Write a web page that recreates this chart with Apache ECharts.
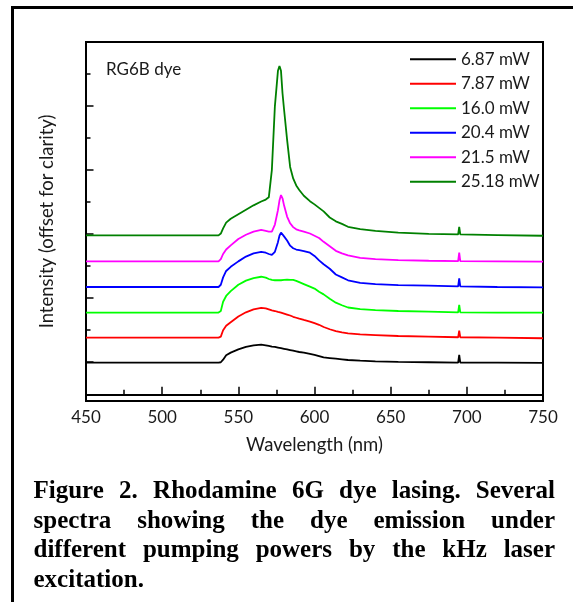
<!DOCTYPE html>
<html>
<head>
<meta charset="utf-8">
<script src="https://cdn.jsdelivr.net/npm/echarts@6/dist/echarts.min.js"></script>
<style>
html,body{margin:0;padding:0;background:#fff;}
#chart{width:573px;height:602px;}
</style>
</head>
<body>
<div id="chart"></div>
<script>
// ---- data ----
const wavelengths = [450, 500, 537, 538.5, 540, 542, 545, 550, 555, 560, 565, 568, 570, 572, 574, 576, 577, 578, 579, 580, 582, 584, 586, 588, 590, 593, 597, 600, 603, 606, 610, 614, 618, 622, 630, 640, 655, 675, 694.3, 695, 695.7, 720, 750];

const p687 = [0.99, 0.99, 0.99, 1.00, 1.08, 1.22, 1.30, 1.40, 1.48, 1.53, 1.55, 1.53, 1.51, 1.49, 1.48, 1.46, 1.45, 1.44, 1.43, 1.42, 1.40, 1.38, 1.36, 1.34, 1.32, 1.30, 1.26, 1.23, 1.19, 1.15, 1.13, 1.11, 1.09, 1.07, 1.05, 1.03, 1.01, 1.00, 0.99, 1.23, 0.99, 0.99, 0.98];
const p787 = [1.77, 1.77, 1.77, 1.80, 2.00, 2.14, 2.25, 2.43, 2.56, 2.65, 2.70, 2.68, 2.65, 2.62, 2.60, 2.57, 2.56, 2.55, 2.54, 2.52, 2.49, 2.46, 2.42, 2.39, 2.36, 2.32, 2.27, 2.22, 2.17, 2.10, 2.03, 1.97, 1.93, 1.90, 1.87, 1.85, 1.82, 1.80, 1.78, 1.99, 1.78, 1.77, 1.75];
const p160 = [2.55, 2.55, 2.55, 2.60, 2.89, 3.07, 3.22, 3.42, 3.55, 3.63, 3.67, 3.64, 3.60, 3.57, 3.56, 3.56, 3.57, 3.56, 3.55, 3.57, 3.58, 3.57, 3.57, 3.54, 3.50, 3.44, 3.36, 3.30, 3.20, 3.12, 2.98, 2.86, 2.78, 2.71, 2.66, 2.63, 2.60, 2.58, 2.56, 2.79, 2.56, 2.55, 2.55];
const p204 = [3.35, 3.35, 3.35, 3.42, 3.65, 3.85, 3.98, 4.15, 4.30, 4.40, 4.45, 4.42, 4.38, 4.35, 4.45, 4.75, 4.95, 5.05, 5.03, 4.93, 4.80, 4.64, 4.56, 4.52, 4.50, 4.47, 4.42, 4.32, 4.18, 4.06, 3.92, 3.74, 3.65, 3.56, 3.48, 3.44, 3.41, 3.39, 3.37, 3.62, 3.37, 3.35, 3.34];
const p215 = [4.15, 4.15, 4.15, 4.22, 4.38, 4.52, 4.65, 4.85, 4.98, 5.08, 5.13, 5.10, 5.08, 5.08, 5.30, 5.75, 6.05, 6.22, 6.12, 5.90, 5.55, 5.34, 5.22, 5.15, 5.12, 5.08, 5.02, 4.95, 4.88, 4.76, 4.62, 4.48, 4.40, 4.34, 4.26, 4.22, 4.19, 4.17, 4.16, 4.42, 4.16, 4.15, 4.14];
const p2518 = [4.96, 4.96, 4.96, 5.02, 5.18, 5.36, 5.48, 5.62, 5.76, 5.90, 6.02, 6.08, 6.15, 7.00, 9.00, 10.10, 10.25, 10.10, 9.40, 8.90, 7.95, 7.10, 6.74, 6.52, 6.38, 6.20, 6.03, 5.93, 5.82, 5.71, 5.52, 5.40, 5.32, 5.23, 5.16, 5.10, 5.05, 5.01, 4.99, 5.23, 4.99, 4.97, 4.95];

const seriesNames = ['6.87 mW', '7.87 mW', '16.0 mW', '20.4 mW', '21.5 mW', '25.18 mW'];
const seriesValues = [p687, p787, p160, p204, p215, p2518];
const seriesColors = ['#000000', '#ff0000', '#00ff00', '#0000ff', '#ff00ff', '#008000'];

const xMin = 450, xMax = 750, xStep = 50;
const yMajorTicks = [1, 3, 5, 7, 9];
const yMinorTicks = [0, 2, 4, 6, 8, 10];
const yMin = -0.21, yMax = 11;

const xAxisTitle = 'Wavelength (nm)';
const yAxisTitle = 'Intensity (offset for clarity)';
const sampleLabel = 'RG6B dye';
const captionLines = [
  'Figure 2. Rhodamine 6G dye lasing. Several',
  'spectra showing the dye emission under',
  'different pumping powers by the kHz laser',
  'excitation.'
];

// ---- chart ----
const sansFont = 'Lato';
const chart = echarts.init(document.getElementById('chart'), null, {renderer: 'canvas'});

const series = seriesNames.map((name, i) => ({
  name: name,
  type: 'line',
  xAxisIndex: 0,
  yAxisIndex: 0,
  showSymbol: false,
  symbol: 'none',
  animation: false,
  lineStyle: {color: seriesColors[i], width: 1.8},
  itemStyle: {color: seriesColors[i]},
  data: wavelengths.map((w, k) => [w, seriesValues[i][k]])
}));

// caption words, justified like the reference
const capFontSize = 25, capFamily = '"Liberation Serif", "Times New Roman", serif';
const ctx = document.createElement('canvas').getContext('2d');
ctx.font = 'bold ' + capFontSize + 'px ' + capFamily;
const capLeft = 33.5, capRight = 555, capBaseline0 = 500, capStep = 29.5;
const graphics = [
  {type: 'rect', silent: true, z: 0, shape: {x: 12.5, y: 7.5, width: 640, height: 660},
   style: {fill: 'none', stroke: '#000', lineWidth: 3}},
  {type: 'text', silent: true, x: 106, y: 70,
   style: {text: sampleLabel, fontSize: 17, fontFamily: sansFont, fill: '#1a1a1a', verticalAlign: 'middle', align: 'left'}}
];
captionLines.forEach((line, i) => {
  const words = line.split(' ');
  const widths = words.map(w => ctx.measureText(w).width);
  const total = widths.reduce((a, b) => a + b, 0);
  const justify = i < captionLines.length - 1 && words.length > 1;
  const gap = justify ? (capRight - capLeft - total) / (words.length - 1) : ctx.measureText(' ').width;
  let x = capLeft;
  words.forEach((w, j) => {
    graphics.push({type: 'text', silent: true, x: x, y: capBaseline0 + i * capStep - 0.3375 * capFontSize,
      style: {text: w, fontSize: capFontSize, fontWeight: 'bold', fontFamily: capFamily, fill: '#000',
              verticalAlign: 'middle', align: 'left'}});
    x += widths[j] + gap;
  });
});

const option = {
  animation: false,
  backgroundColor: '#fff',
  grid: {left: 86, top: 42, right: 30, bottom: 201, show: true, borderColor: '#000', borderWidth: 2,
         containLabel: false, outerBoundsMode: 'none'},
  legend: {
    orient: 'vertical', left: 410, top: 50.8, padding: 0,
    icon: 'rect', itemWidth: 46, itemHeight: 2, itemGap: 7.5,
    textStyle: {fontSize: 17, fontFamily: sansFont, color: '#1a1a1a', lineHeight: 17},
    data: seriesNames
  },
  xAxis: {
    type: 'value', min: xMin, max: xMax, interval: xStep,
    name: xAxisTitle, nameLocation: 'middle', nameGap: 35,
    nameTextStyle: {fontSize: 18.5, fontFamily: sansFont, color: '#1a1a1a'},
    axisLine: {show: true, lineStyle: {color: '#000', width: 2}},
    axisTick: {show: true, inside: true, length: 7.5, lineStyle: {color: '#000', width: 1.5}},
    minorTick: {show: true, splitNumber: 2, length: 4.5, lineStyle: {color: '#000', width: 1.5}},
    axisLabel: {fontSize: 17, fontFamily: sansFont, color: '#1a1a1a', margin: 8},
    splitLine: {show: false}
  },
  yAxis: [
    {
      type: 'value', min: yMin, max: yMax, position: 'left', offset: 0,
      name: yAxisTitle, nameLocation: 'middle', nameGap: 29, nameRotate: 90,
      nameTextStyle: {fontSize: 18.5, fontFamily: sansFont, color: '#1a1a1a'},
      axisLine: {show: true, lineStyle: {color: '#000', width: 2}},
      axisTick: {show: true, inside: true, length: 7.5, customValues: yMajorTicks, lineStyle: {color: '#000', width: 1.5}},
      axisLabel: {show: false},
      splitLine: {show: false}
    },
    {
      type: 'value', min: yMin, max: yMax, position: 'left', offset: 0,
      axisLine: {show: false},
      axisTick: {show: true, inside: true, length: 4.5, customValues: yMinorTicks, lineStyle: {color: '#000', width: 1.5}},
      axisLabel: {show: false},
      splitLine: {show: false}
    }
  ],
  graphic: graphics,
  series: series
};
chart.setOption(option);
</script>
</body>
</html>
